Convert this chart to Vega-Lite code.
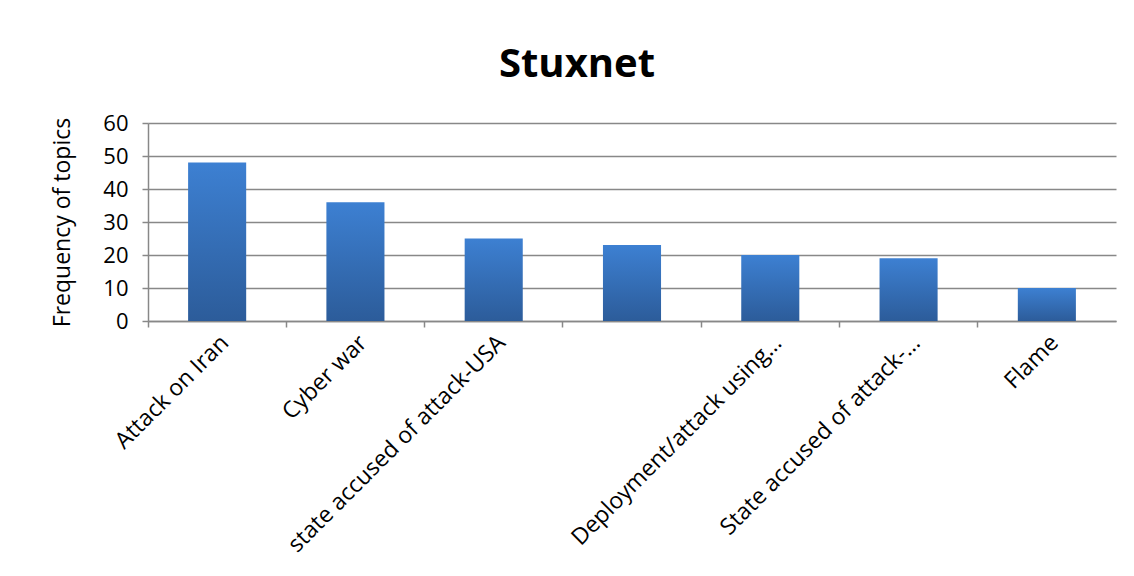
{
  "$schema": "https://vega.github.io/schema/vega-lite/v6.json",
  "autosize": "none",
  "width": 968,
  "height": 198,
  "padding": {"left": 148, "top": 123, "right": 18, "bottom": 255},
  "background": "white",
  "title": {"text": "Stuxnet", "fontSize": 40, "font": "Open Sans", "fontWeight": "bold", "color": "#000000", "anchor": "middle", "dx": -55, "offset": 27},
  "config": {"view": {"stroke": null}, "font": "Open Sans"},
  "resolve": {"axis": {"x": "independent"}},
  "data": {"values": [
    {"topic": "Attack on Iran", "frequency": 48},
    {"topic": "Cyber war", "frequency": 36},
    {"topic": "state accused of attack-USA", "frequency": 25},
    {"topic": " ", "frequency": 23},
    {"topic": "Deployment/attack using…", "frequency": 20},
    {"topic": "State accused of attack-…", "frequency": 19},
    {"topic": "Flame", "frequency": 10}
  ]},
  "layer": [
    {
      "mark": {"type": "bar", "color": {"gradient": "linear", "x1": 0, "y1": 0, "x2": 0, "y2": 1, "stops": [{"offset": 0, "color": "#3d80d2"}, {"offset": 1, "color": "#2c5c9a"}]}},
      "encoding": {
        "x": {"field": "topic", "type": "nominal", "sort": null,
          "scale": {"paddingInner": 0.58, "paddingOuter": 0.29},
          "axis": {"title": null, "labelAngle": -45, "labelFontSize": 23, "labelColor": "#000000", "labelPadding": 10, "domainColor": "#888888", "domainWidth": 1.5, "ticks": false, "grid": false, "labelLimit": 500}},
        "y": {"field": "frequency", "type": "quantitative",
          "scale": {"domain": [0, 60], "nice": false},
          "axis": {"title": "Frequency of topics", "titleFontSize": 23, "titleFontWeight": "normal", "titleColor": "#000000", "titlePadding": 28, "values": [0, 10, 20, 30, 40, 50, 60], "labelFontSize": 22, "labelColor": "#000000", "labelPadding": 14, "tickColor": "#888888", "tickWidth": 1.5, "tickSize": 6, "domainColor": "#888888", "domainWidth": 1.5, "gridColor": "#888888", "gridWidth": 1.5, "gridOpacity": 1}}
      }
    },
    {
      "mark": {"type": "tick", "opacity": 0},
      "encoding": {
        "x": {"field": "topic", "type": "nominal", "sort": null,
          "axis": {"orient": "bottom", "title": null, "labels": false, "domain": false, "grid": false, "ticks": true, "bandPosition": -0.69, "tickColor": "#888888", "tickWidth": 1.5, "tickSize": 6}}
      }
    }
  ]
}
